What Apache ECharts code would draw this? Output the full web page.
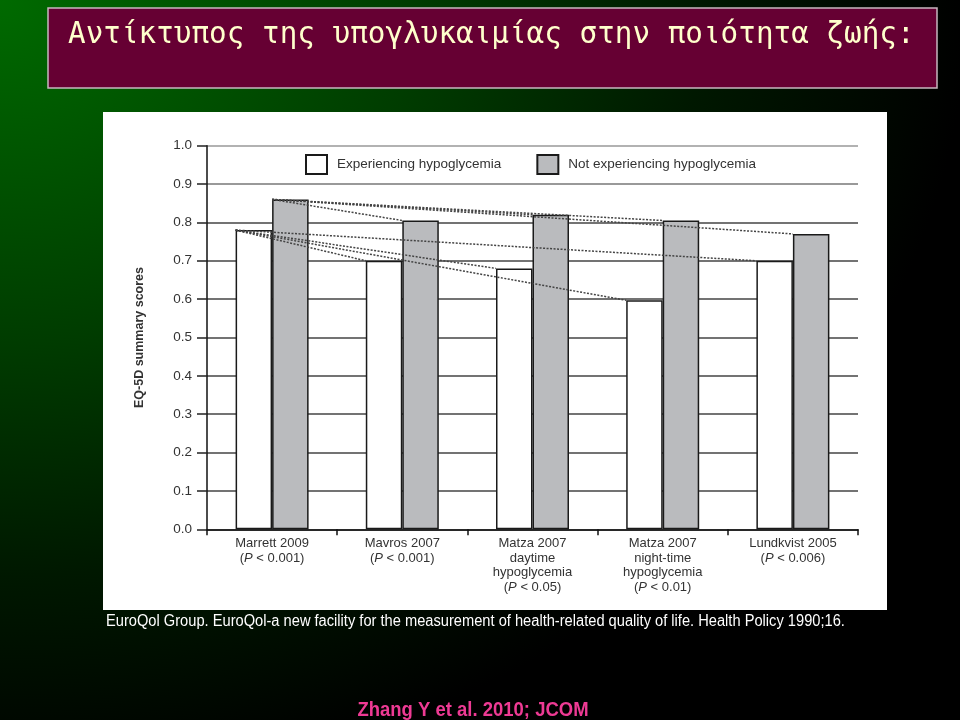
<!DOCTYPE html>
<html><head><meta charset="utf-8">
<script src="https://cdn.jsdelivr.net/npm/echarts@6/dist/echarts.min.js"></script>
<style>
html,body{margin:0;padding:0;background:#000;}
#c{width:960px;height:720px;background:radial-gradient(ellipse 1100px 900px at 0 0,#006a00 0%,#003c00 38%,#001800 64%,#000 88%);}
</style>
</head><body><div id="c"></div>
<script>
// ---- data ----
const categories = [
  'Marrett 2009\n(P < 0.001)',
  'Mavros 2007\n(P < 0.001)',
  'Matza 2007\ndaytime\nhypoglycemia\n(P < 0.05)',
  'Matza 2007\nnight-time\nhypoglycemia\n(P < 0.01)',
  'Lundkvist 2005\n(P < 0.006)'
];
const seriesNames = ['Experiencing hypoglycemia', 'Not experiencing hypoglycemia'];
const experiencing    = [0.78, 0.70, 0.68, 0.597, 0.70];
const notExperiencing = [0.86, 0.805, 0.82, 0.805, 0.77];
// comparison lines: [target category index, series index] — each drawn from Marrett 2009
const comparisons = [[1,0],[2,0],[3,0],[4,0],[1,1],[2,1],[3,1],[4,1]];
const yAxisName = 'EQ-5D summary scores';
const titleText = 'Αντίκτυπος της υπογλυκαιμίας στην ποιότητα ζωής:';
const refText = 'EuroQol Group. EuroQol-a new facility for the measurement of health-related quality of life. Health Policy 1990;16.';
const sourceText = 'Zhang Y et al. 2010; JCOM';

const BAR_W = 36.5;
const seriesValues = [experiencing, notExperiencing];
const chart = echarts.init(document.getElementById('c'), null, {renderer:'canvas'});
const FONT = '"Liberation Sans", Arial, Helvetica, sans-serif';

chart.setOption({
  animation: false,
  backgroundColor: 'transparent',
  textStyle: {fontFamily: FONT},
  grid: {left: 207, right: 102, top: 145.7, bottom: 190.7},
  legend: {
    data: seriesNames, left: 300, top: 149, itemWidth: 21, itemHeight: 19, itemGap: 35,
    icon: 'rect', selectedMode: false,
    textStyle: {fontSize: 13.5, color: '#333', padding: [0,0,0,5]}
  },
  xAxis: {
    type: 'category', data: categories, boundaryGap: true,
    axisLine: {lineStyle: {color: '#111', width: 1.5}},
    axisTick: {show: true, length: 6, interval: 0, lineStyle: {color: '#111', width: 1.5}},
    axisLabel: {
      interval: 0, margin: 7, fontSize: 13, color: '#333', lineHeight: 14.5,
      formatter: v => v.replace('(P', '({i|P}'),
      rich: {i: {fontStyle: 'italic', fontSize: 13, color: '#333', lineHeight: 14.5}}
    }
  },
  yAxis: {
    type: 'value', min: 0, max: 1, interval: 0.1,
    name: yAxisName, nameLocation: 'middle', nameGap: 61, nameRotate: 90,
    nameTextStyle: {fontSize: 12.5, fontWeight: 'bold', color: '#333'},
    axisLine: {show: true, lineStyle: {color: '#111', width: 1.5}},
    axisTick: {show: true, length: 10, lineStyle: {color: '#222', width: 1.5}},
    axisLabel: {margin: 15, fontSize: 13.5, color: '#333', formatter: v => v.toFixed(1)},
    splitLine: {show: true, lineStyle: {color: ['#444','#444','#444','#444','#444','#444','#444','#444','#444','#777','#999'], width: 1.5}}
  },
  series: [
    {name: seriesNames[0], type: 'bar', data: experiencing, barWidth: BAR_W, barGap: '0%',
     itemStyle: {color: '#ffffff', borderColor: '#1a1a1a', borderWidth: 1.5}},
    {name: seriesNames[1], type: 'bar', data: notExperiencing, barWidth: BAR_W, barGap: '0%',
     itemStyle: {color: '#babbbe', borderColor: '#1a1a1a', borderWidth: 1.5}},
    {type: 'custom', z: 5, silent: true, data: comparisons, encode: {x: 0, y: 1},
     renderItem: function (params, api) {
       const j = api.value(0), t = api.value(1);
       const vals = seriesValues[t];
       const p0 = api.coord([0, vals[0]]);
       const p1 = api.coord([j, vals[j]]);
       const off = t === 0 ? -BAR_W : 0;
       return {type: 'line', shape: {x1: p0[0] + off, y1: p0[1], x2: p1[0] + off, y2: p1[1]},
               style: {stroke: '#444', lineWidth: 1.5, lineDash: [2, 1.5]}};
     }}
  ],
  graphic: [
    {type: 'rect', z: -10, shape: {x: 48, y: 8, width: 889, height: 80},
     style: {fill: '#660033', stroke: '#c8b8c0', lineWidth: 1.5}},
    {type: 'text', z: -9, x: 68, y: 35,
     style: {text: titleText, fill: '#ffffcc', fontSize: 29.3, fontFamily: '"DejaVu Sans Mono", monospace', verticalAlign: 'middle'}},
    {type: 'rect', z: -10, shape: {x: 103, y: 112, width: 784, height: 498}, style: {fill: '#ffffff'}},
    {type: 'text', z: -9, x: 106, y: 622, scaleX: 0.916,
     style: {text: refText, fill: '#ffffff', fontSize: 16, fontFamily: FONT, verticalAlign: 'middle'}},
    {type: 'text', z: -9, x: 473, y: 710, scaleX: 0.88,
     style: {text: sourceText, fill: '#ee3a94', fontSize: 21, fontWeight: 'bold', fontFamily: FONT, align: 'center', verticalAlign: 'middle'}}
  ]
});
</script>
</body></html>
